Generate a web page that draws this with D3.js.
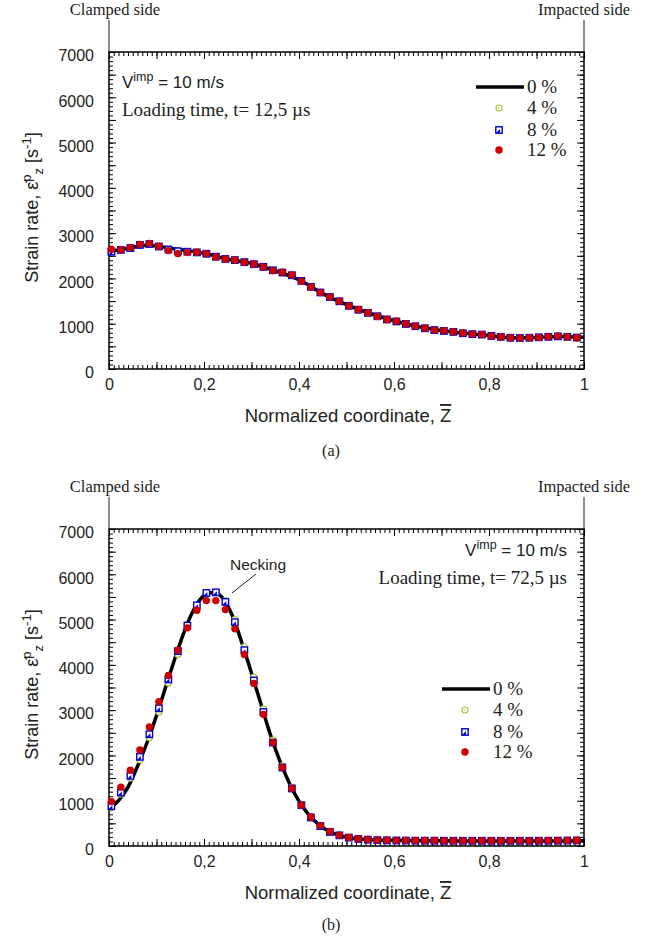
<!DOCTYPE html>
<html>
<head>
<meta charset="utf-8">
<script src="https://cdn.jsdelivr.net/npm/d3@7"></script>
<style>
  body { margin: 0; background: #fff; }
  svg { display: block; }
</style>
</head>
<body>
<script>
// marker positions along the specimen (normalized coordinate)
const markerZ = [0.005,0.025,0.045,0.065,0.085,0.105,0.125,0.145,0.165,0.185,
                 0.205,0.225,0.245,0.265,0.285,0.305,0.325,0.345,0.365,0.385,
                 0.405,0.425,0.445,0.465,0.485,0.505,0.525,0.545,0.565,0.585,
                 0.605,0.625,0.645,0.665,0.685,0.705,0.725,0.745,0.765,0.785,
                 0.805,0.825,0.845,0.865,0.885,0.905,0.925,0.945,0.965,0.985];

// panel (a), t = 12,5 us
const aLineZ = [0,0.04,0.08,0.12,0.16,0.2,0.25,0.3,0.35,0.4,0.45,0.5,0.55,0.6,0.65,0.7,0.75,0.8,0.85,0.9,0.95,1];
const aLine0 = [2600,2660,2735,2680,2620,2555,2425,2330,2170,1970,1665,1420,1225,1065,935,850,788,737,688,696,720,700];
const a4 = [2600,2635,2670,2735,2755,2700,2645,2605,2590,2570,2540,2480,2435,2400,2355,2310,2250,2175,2125,2065,
            1950,1820,1695,1590,1490,1390,1305,1235,1160,1090,1050,995,945,900,860,840,815,790,770,760,
            730,710,690,685,690,700,715,720,710,695];
const a8 = [2590,2630,2670,2740,2760,2705,2640,2600,2590,2575,2545,2480,2430,2405,2360,2315,2255,2180,2130,2070,
            1945,1815,1690,1590,1495,1395,1310,1240,1165,1095,1050,995,945,900,860,840,820,790,770,760,
            730,710,690,685,690,700,710,720,710,695];
const a12 = [2643,2636,2680,2753,2775,2709,2614,2548,2570,2577,2548,2474,2430,2408,2357,2320,2254,2173,2137,2078,
             1938,1813,1689,1593,1498,1395,1314,1241,1160,1094,1057,998,947,903,859,844,822,793,771,764,
             727,712,690,683,690,698,712,727,712,690];

// panel (b), t = 72,5 us
const bLineZ = [0,0.02,0.04,0.06,0.08,0.1,0.12,0.14,0.16,0.18,0.2,0.22,0.24,0.26,0.28,0.3,0.32,0.34,0.36,0.38,0.4,0.42,0.44,0.46,0.48,0.5,0.55,0.6,0.7,0.8,0.9,1];
const bLine0 = [820,1000,1300,1760,2280,2880,3530,4180,4780,5250,5530,5600,5470,5080,4480,3820,3130,2450,1870,1380,990,700,490,340,250,195,140,125,115,110,110,115];
const b4 = [860,1150,1500,1900,2390,2960,3600,4230,4820,5290,5570,5600,5420,5000,4400,3730,3030,2340,1770,1300,
            920,650,455,320,240,190,160,145,135,128,125,122,120,120,118,118,117,117,116,116,
            116,115,115,115,116,116,117,118,120,122];
const b8 = [880,1180,1549,1968,2467,3040,3678,4303,4868,5315,5587,5601,5390,4941,4324,3656,2959,2284,1733,1271,
            900,630,440,310,235,185,155,140,130,125,122,120,118,118,117,116,116,115,115,115,
            115,114,114,115,115,116,117,118,120,122];
const b12 = [980,1300,1674,2122,2628,3187,3767,4324,4817,5205,5419,5419,5220,4795,4229,3590,2907,2284,1733,1271,
             900,640,450,320,240,190,160,145,135,130,125,125,120,120,120,118,118,117,117,117,
             117,116,116,116,117,118,120,122,124,126];

const yTicks = [0,1000,2000,3000,4000,5000,6000,7000];
const xTicks = [0,0.2,0.4,0.6,0.8,1];
const seriesNames = ["0 %", "4 %", "8 %", "12 %"];

const W = 663, H = 939;
const sans = "'Liberation Sans', Arial, sans-serif";
const serif = "'Liberation Serif', 'DejaVu Serif', serif";
const colRed = "#cc0000", colBlue = "#0000d0", colGreen = "#a4c43c";

const svg = d3.select("body").append("svg")
    .attr("width", W)
    .attr("height", H);

function drawPanel(cfg) {
    let left = 109, right = 584, plotTop = cfg.plotTop, plotBottom = cfg.plotBottom;
    let x = d3.scaleLinear().domain([0, 1]).range([left, right]);
    let y = d3.scaleLinear().domain([0, 7000]).range([plotBottom, plotTop]);
    let g = svg.append("g");

    // side labels
    g.append("text").attr("x", 115).attr("y", plotTop - 37)
        .attr("text-anchor", "middle").style("font", "16.5px " + serif).style("fill", "#222")
        .text("Clamped side");
    g.append("text").attr("x", 584).attr("y", plotTop - 37)
        .attr("text-anchor", "middle").style("font", "16.5px " + serif).style("fill", "#222")
        .text("Impacted side");
    g.append("line").attr("x1", left).attr("x2", left).attr("y1", plotTop - 32).attr("y2", plotTop)
        .attr("stroke", "#444").attr("stroke-width", 1.2);
    g.append("line").attr("x1", right).attr("x2", right).attr("y1", plotTop - 32).attr("y2", plotTop)
        .attr("stroke", "#444").attr("stroke-width", 1.2);

    // ticks, inward on all four sides
    let xMinor = d3.range(0, 1.0001, 0.01);
    let xMajor = d3.range(0, 1.0001, 0.1);
    let yMinor = d3.range(0, 7001, 100);
    let yMajor = d3.range(0, 7001, 500);
    let tickStyle = sel => { sel.select(".domain").remove(); sel.selectAll("line").attr("stroke", "#000").attr("stroke-width", 1); };

    g.append("g").attr("transform", `translate(0,${plotBottom})`)
        .call(d3.axisBottom(x).tickValues(xMinor).tickSize(-4).tickFormat("")).call(tickStyle);
    g.append("g").attr("transform", `translate(0,${plotBottom})`)
        .call(d3.axisBottom(x).tickValues(xMajor).tickSize(-7).tickFormat("")).call(tickStyle);
    g.append("g").attr("transform", `translate(0,${plotTop})`)
        .call(d3.axisTop(x).tickValues(xMinor).tickSize(-4).tickFormat("")).call(tickStyle);
    g.append("g").attr("transform", `translate(0,${plotTop})`)
        .call(d3.axisTop(x).tickValues(xMajor).tickSize(-7).tickFormat("")).call(tickStyle);
    g.append("g").attr("transform", `translate(${left},0)`)
        .call(d3.axisLeft(y).tickValues(yMinor).tickSize(-4).tickFormat("")).call(tickStyle);
    g.append("g").attr("transform", `translate(${left},0)`)
        .call(d3.axisLeft(y).tickValues(yMajor).tickSize(-7).tickFormat("")).call(tickStyle);
    g.append("g").attr("transform", `translate(${right},0)`)
        .call(d3.axisRight(y).tickValues(yMinor).tickSize(-4).tickFormat("")).call(tickStyle);
    g.append("g").attr("transform", `translate(${right},0)`)
        .call(d3.axisRight(y).tickValues(yMajor).tickSize(-7).tickFormat("")).call(tickStyle);

    // tick labels
    let xl = g.append("g").attr("transform", `translate(0,${plotBottom + 7})`)
        .call(d3.axisBottom(x).tickValues(xTicks).tickSize(0)
            .tickFormat(d => d === 0 || d === 1 ? String(d) : d3.format(".1f")(d).replace(".", ",")));
    xl.select(".domain").remove();
    xl.selectAll("text").style("font", "16px " + sans).style("fill", "#222");
    let yl = g.append("g").attr("transform", `translate(${left - 12},0)`)
        .call(d3.axisLeft(y).tickValues(yTicks).tickSize(0).tickFormat(d3.format("d")));
    yl.select(".domain").remove();
    yl.selectAll("text").attr("dy", "0.55em").style("font", "16px " + sans).style("fill", "#222");

    // frame
    g.append("rect").attr("x", left).attr("y", plotTop)
        .attr("width", right - left).attr("height", plotBottom - plotTop)
        .attr("fill", "none").attr("stroke", "#000").attr("stroke-width", 1.5);

    // axis titles
    let xt = g.append("text").attr("x", 348).attr("y", plotBottom + 53)
        .attr("text-anchor", "middle").style("font", "18.5px " + sans).style("fill", "#222");
    xt.append("tspan").text("Normalized coordinate, ");
    xt.append("tspan").style("text-decoration", "overline").text("Z");

    let yt = g.append("text")
        .attr("transform", `translate(38,${(plotTop + plotBottom) / 2 - 3}) rotate(-90)`)
        .attr("text-anchor", "middle").style("font", "18px " + sans).style("fill", "#222");
    yt.append("tspan").text("Strain rate, \u03B5\u0307");
    yt.append("tspan").attr("dy", -7).style("font-size", "13px").text("p");
    yt.append("tspan").attr("dy", 12).style("font-size", "13px").text("z");
    yt.append("tspan").attr("dy", -5).text(" [s");
    yt.append("tspan").attr("dy", -7).style("font-size", "13px").text("-1");
    yt.append("tspan").attr("dy", 7).text("]");

    g.append("text").attr("x", 331).attr("y", plotBottom + cfg.tagGap)
        .attr("text-anchor", "middle").style("font", "16px " + serif).style("fill", "#222")
        .text(cfg.tag);

    // series
    let line = d3.line().x(d => x(d[0])).y(d => y(d[1])).curve(d3.curveMonotoneX);
    let plot = g.append("g");
    plot.append("path").datum(cfg.lineZ.map((z, i) => [z, cfg.line0[i]]))
        .attr("d", line).attr("fill", "none").attr("stroke", "#000").attr("stroke-width", 3.5);

    drawCircles(plot, markerZ.map((z, i) => [x(z), y(cfg.s4[i])]));
    drawSquares(plot, markerZ.map((z, i) => [x(z), y(cfg.s8[i])]));
    drawDots(plot, markerZ.map((z, i) => [x(z), y(cfg.s12[i])]));

    // annotation texts
    cfg.notes(g);

    // legend
    let lx = cfg.legendX, ly = cfg.legendY;
    g.append("line").attr("x1", lx).attr("x2", lx + 48).attr("y1", ly).attr("y2", ly)
        .attr("stroke", "#000").attr("stroke-width", 3.5);
    drawCircles(g, [[lx + 23, ly + 21]]);
    drawSquares(g, [[lx + 23, ly + 43]]);
    drawDots(g, [[lx + 23, ly + 63]]);
    seriesNames.forEach((name, i) => {
        g.append("text").attr("x", lx + 51).attr("y", ly + [0, 21, 43, 63][i] + 6)
            .style("font", "19px " + serif).style("fill", "#222").text(name);
    });
}

function drawCircles(sel, pts) {
    sel.selectAll(null).data(pts).enter().append("circle")
        .attr("cx", d => d[0]).attr("cy", d => d[1]).attr("r", 3)
        .attr("fill", "#fff").attr("stroke", colGreen).attr("stroke-width", 1.2);
    sel.selectAll(null).data(pts).enter().append("circle")
        .attr("cx", d => d[0]).attr("cy", d => d[1]).attr("r", 0.8).attr("fill", colGreen);
}

function drawSquares(sel, pts) {
    sel.selectAll(null).data(pts).enter().append("rect")
        .attr("x", d => d[0] - 3.2).attr("y", d => d[1] - 3.2).attr("width", 6.4).attr("height", 6.4)
        .attr("fill", "#fff").attr("stroke", colBlue).attr("stroke-width", 1.4);
    sel.selectAll(null).data(pts).enter().append("path")
        .attr("d", d => `M${d[0] - 3},${d[1] + 3}L${d[0] + 1},${d[1] - 1}L${d[0] + 1},${d[1] + 3}Z`)
        .attr("fill", colBlue);
}

function drawDots(sel, pts) {
    sel.selectAll(null).data(pts).enter().append("circle")
        .attr("cx", d => d[0]).attr("cy", d => d[1]).attr("r", 3.7)
        .attr("fill", colRed);
}

function vText(g, xPos, yPos, anchor) {
    let t = g.append("text").attr("x", xPos).attr("y", yPos).attr("text-anchor", anchor)
        .style("font", "17px " + sans).style("fill", "#222");
    t.append("tspan").text("V");
    t.append("tspan").attr("dy", -7).style("font-size", "12.5px").text("imp");
    t.append("tspan").attr("dy", 7).text(" = 10 m/s");
}

drawPanel({
    tag: "(a)", plotTop: 52, plotBottom: 369, tagGap: 87,
    lineZ: aLineZ, line0: aLine0, s4: a4, s8: a8, s12: a12,
    legendX: 476, legendY: 87,
    notes: (g) => {
        vText(g, 122, 88, "start");
        g.append("text").attr("x", 122).attr("y", 116)
            .style("font", "19px " + serif).style("fill", "#222")
            .text("Loading time, t= 12,5 \u00B5s");
    }
});

drawPanel({
    tag: "(b)", plotTop: 529, plotBottom: 846, tagGap: 84,
    lineZ: bLineZ, line0: bLine0, s4: b4, s8: b8, s12: b12,
    legendX: 442, legendY: 689,
    notes: (g) => {
        vText(g, 567, 556, "end");
        g.append("text").attr("x", 567).attr("y", 584).attr("text-anchor", "end")
            .style("font", "19px " + serif).style("fill", "#222")
            .text("Loading time, t= 72,5 \u00B5s");
        g.append("text").attr("x", 230).attr("y", 570)
            .style("font", "15.5px " + sans).style("fill", "#222").text("Necking");
        g.append("line").attr("x1", 256).attr("y1", 574).attr("x2", 232).attr("y2", 593)
            .attr("stroke", "#222").attr("stroke-width", 1);
    }
});
</script>
</body>
</html>
